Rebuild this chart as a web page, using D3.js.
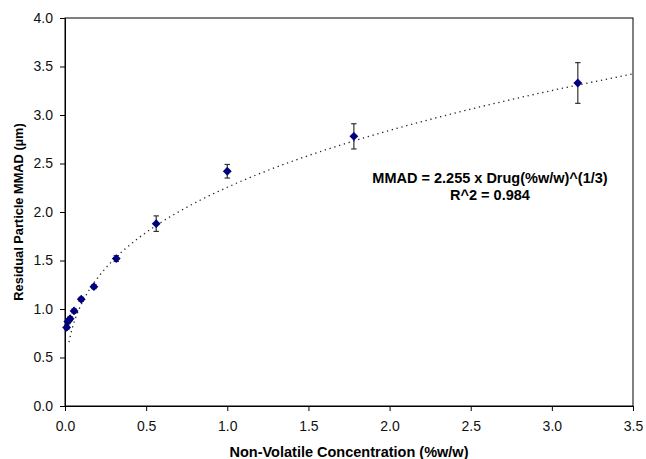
<!DOCTYPE html>
<html>
<head>
<meta charset="utf-8">
<script src="https://cdn.jsdelivr.net/npm/d3@7"></script>
<style>
  body { margin: 0; background: #fff; }
  svg { font-family: "Liberation Sans", Arial, sans-serif; }
</style>
</head>
<body>
<svg id="canvas"></svg>
<script>
// measured points
let conc = [0.01, 0.0178, 0.0316, 0.056, 0.1, 0.178, 0.316, 0.562, 1.0, 1.78, 3.16]
let mmad = [0.81, 0.87, 0.90, 0.98, 1.10, 1.23, 1.52, 1.88, 2.42, 2.78, 3.33]
let errs = [0.02, 0.02, 0.02, 0.02, 0.02, 0.02, 0.03, 0.08, 0.07, 0.13, 0.21]

// fitted curve MMAD = a * x^(1/3)
let fitA = 2.255
let fitStart = 0.025
let fitEnd = 3.5

let xTicks = [0, 0.5, 1, 1.5, 2, 2.5, 3, 3.5]
let yTicks = [0, 0.5, 1, 1.5, 2, 2.5, 3, 3.5, 4]

let width = 646
let height = 459
let plotLeft = 65, plotRight = 633, plotTop = 18, plotBottom = 406

let svg = d3.select('#canvas')
            .attr('width', width)
            .attr('height', height)

let x = d3.scaleLinear().domain([0, 3.5]).range([plotLeft, plotRight])
let y = d3.scaleLinear().domain([0, 4]).range([plotBottom, plotTop])

// frame
svg.append('rect')
   .attr('x', plotLeft).attr('y', plotTop)
   .attr('width', plotRight - plotLeft).attr('height', plotBottom - plotTop)
   .attr('fill', 'none').attr('stroke', '#000').attr('stroke-width', 1)

let xAxis = svg.append('g')
               .attr('transform', `translate(0,${plotBottom})`)
               .call(d3.axisBottom(x).tickValues(xTicks).tickFormat(d3.format('.1f')).tickSize(5).tickPadding(10))
let yAxis = svg.append('g')
               .attr('transform', `translate(${plotLeft},0)`)
               .call(d3.axisLeft(y).tickValues(yTicks).tickFormat(d3.format('.1f')).tickSize(5).tickPadding(7))

for (let ax of [xAxis, yAxis]) {
    ax.select('.domain').attr('stroke', '#000')
    ax.selectAll('.tick line').attr('stroke', '#000')
    ax.selectAll('.tick text').attr('font-size', 14).attr('fill', '#111')
        .attr('font-family', '"Liberation Sans", Arial, sans-serif')
}

// trend line
let fitX = d3.range(0, 201).map(i => fitStart * Math.pow(fitEnd / fitStart, i / 200))
let line = d3.line()
             .x(d => x(d))
             .y(d => y(fitA * Math.cbrt(d)))
svg.append('path')
   .datum(fitX)
   .attr('d', line)
   .attr('fill', 'none')
   .attr('stroke', '#222')
   .attr('stroke-width', 1.3)
   .attr('stroke-dasharray', '1.3,3.7')

// error bars
let eb = svg.append('g').attr('stroke', '#333').attr('stroke-width', 1.2)
conc.forEach((c, i) => {
    let cx = x(c)
    let y1 = y(mmad[i] + errs[i]), y2 = y(mmad[i] - errs[i])
    eb.append('line').attr('x1', cx).attr('x2', cx).attr('y1', y1).attr('y2', y2)
    eb.append('line').attr('x1', cx - 2.7).attr('x2', cx + 2.7).attr('y1', y1).attr('y2', y1)
    eb.append('line').attr('x1', cx - 2.7).attr('x2', cx + 2.7).attr('y1', y2).attr('y2', y2)
})

// markers
svg.append('g').selectAll('path')
   .data(conc)
   .enter()
   .append('path')
   .attr('d', d3.symbol().type(d3.symbolDiamond2).size(50))
   .attr('transform', (d, i) => `translate(${x(d)},${y(mmad[i])})`)
   .attr('fill', '#00007f')

// annotation
svg.append('text')
   .attr('x', 490).attr('y', 183)
   .attr('text-anchor', 'middle')
   .attr('font-size', 14.5).attr('font-weight', 'bold')
   .text('MMAD = 2.255 x Drug(%w/w)^(1/3)')
svg.append('text')
   .attr('x', 490).attr('y', 200)
   .attr('text-anchor', 'middle')
   .attr('font-size', 14.5).attr('font-weight', 'bold')
   .text('R^2 = 0.984')

// axis titles
svg.append('text')
   .attr('x', (plotLeft + plotRight) / 2).attr('y', 457)
   .attr('text-anchor', 'middle')
   .attr('font-size', 14.5).attr('font-weight', 'bold')
   .text('Non-Volatile Concentration (%w/w)')
svg.append('text')
   .attr('transform', `translate(23,${(plotTop + plotBottom) / 2}) rotate(-90)`)
   .attr('text-anchor', 'middle')
   .attr('font-size', 12.8).attr('font-weight', 'bold')
   .text('Residual Particle MMAD (\u00b5m)')
</script>
</body>
</html>
